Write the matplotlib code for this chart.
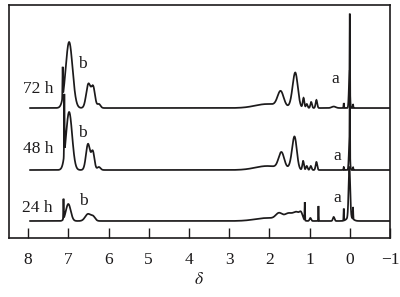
import numpy as np
import matplotlib
matplotlib.use("Agg")
import matplotlib.pyplot as plt

plt.rcParams['font.family'] = ['Liberation Serif', 'DejaVu Serif']
plt.rcParams['mathtext.fontset'] = 'stix'

# Sample labels and vertical offsets of each trace (intensity units)
labels = ["72 h", "48 h", "24 h"]
offsets = [130, 68, 17]

# Peak lists: chemical shift (ppm), height, width (sigma, ppm)
pos_72 = [7.14, 6.98, 6.50, 6.38, 6.24, 2.05, 1.72, 1.35, 1.42, 1.15, 1.07, 0.96, 0.83, 0.40, 0.15, 0.01, 0.00, -0.08]
hgt_72 = [30, 66, 24, 20, 4, 4, 15, 32, 6, 10, 4, 6, 8, 1.5, 5, 28, 72, 4]
wid_72 = [0.005, 0.085, 0.055, 0.045, 0.04, 0.3, 0.075, 0.06, 0.06, 0.02, 0.02, 0.02, 0.02, 0.05, 0.006, 0.015, 0.004, 0.006]

pos_48 = [7.10, 6.98, 6.51, 6.39, 6.24, 2.05, 1.70, 1.37, 1.44, 1.16, 1.07, 0.97, 0.83, 0.15, 0.01, 0.00, -0.08]
hgt_48 = [60, 58, 26, 18, 3, 4, 16, 30, 6, 9, 4, 4, 8, 3, 25, 80, 3]
wid_48 = [0.005, 0.075, 0.05, 0.04, 0.04, 0.3, 0.07, 0.055, 0.06, 0.02, 0.02, 0.02, 0.02, 0.006, 0.015, 0.004, 0.006]

pos_24 = [7.12, 7.00, 6.51, 6.38, 2.05, 1.76, 1.52, 1.32, 1.21, 1.12, 0.98, 0.78, 0.40, 0.15, 0.01, 0.00, -0.08]
hgt_24 = [20, 17, 7, 4, 3, 6, 7, 8, 6, 18, 3, 15, 4, 12, 50, 4, 12]
wid_24 = [0.005, 0.06, 0.07, 0.05, 0.3, 0.08, 0.1, 0.08, 0.04, 0.005, 0.02, 0.005, 0.02, 0.005, 0.02, 0.07, 0.005]

peaks = [(pos_72, hgt_72, wid_72), (pos_48, hgt_48, wid_48), (pos_24, hgt_24, wid_24)]

# label positions
label_pos = [(7.38, 145), (7.38, 85), (7.38, 26)]
b_pos = [(6.65, 170), (6.65, 101), (6.63, 33)]
a_pos = [(0.35, 155), (0.30, 78), (0.30, 36)]

xticks = [8, 7, 6, 5, 4, 3, 2, 1, 0, -1]
xticklabels = ["8", "7", "6", "5", "4", "3", "2", "1", "0", "\u22121"]

ink = '#1c1a1b'

fig = plt.figure(figsize=(4.0, 2.97), dpi=100)
ax = fig.add_axes([0.0225, 0.1987, 0.9525, 0.7843])

x = np.linspace(7.95, -1.0, 18000)
for (p, h, w), off in zip(peaks, offsets):
    y = np.zeros_like(x)
    for pi, hi, wi in zip(p, h, w):
        y += hi * np.exp(-0.5 * ((x - pi) / wi) ** 2)
    ax.plot(x, y + off, color=ink, lw=1.25, solid_joinstyle='miter')

fs = 12.5
for (lx, ly), t in zip(label_pos, labels):
    ax.text(lx, ly, t, ha='right', va='baseline', fontsize=fs, color=ink)
for (bx, by) in b_pos:
    ax.text(bx, by, "b", ha='center', va='baseline', fontsize=fs, color=ink)
for (axx, ay) in a_pos:
    ax.text(axx, ay, "a", ha='center', va='baseline', fontsize=fs, color=ink)

ax.set_xlim(8.475, -1.0)
ax.set_ylim(0, 233)
ax.set_yticks([])
ax.set_xticks(xticks)
ax.set_xticklabels(xticklabels, fontsize=fs, color=ink)
ax.tick_params(axis='x', direction='in', length=7, width=1.0, pad=10, color=ink)
ax.set_xlabel(r"$\delta$", fontsize=fs, color=ink, labelpad=3)
for s in ax.spines.values():
    s.set_linewidth(1.2)
    s.set_color(ink)

fig.savefig("out.png", dpi=100)
